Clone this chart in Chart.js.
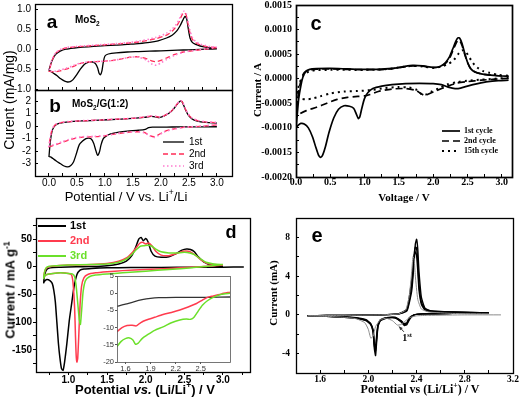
<!DOCTYPE html>
<html>
<head>
<meta charset="utf-8">
<script src="https://cdn.jsdelivr.net/npm/chart.js@4.4.1/dist/chart.umd.min.js"></script>
<style>
  html, body { margin: 0; padding: 0; background: #fff; }
  #fig { position: relative; width: 520px; height: 403px; overflow: hidden; background: #fff; }
  #fig canvas { position: absolute; left: 0; top: 0; }
  .lbl { position: absolute; white-space: nowrap; line-height: 1; color: #000; transform: translate(-50%, -50%); }
  .lbl.left { transform: translate(0, -50%); }
  .lbl.rot { transform: translate(-50%, -50%) rotate(-90deg); }
  .sans { font-family: "Liberation Sans", Arial, sans-serif; }
  .serif { font-family: "Liberation Serif", "Times New Roman", serif; font-weight: bold; }
  .bold { font-weight: bold; }
  .lbl sub, .lbl sup { font-size: 65%; line-height: 0; }
</style>
</head>
<body>
<div id="fig">
  <canvas id="chartA" width="520" height="403"></canvas>
  <canvas id="chartB" width="520" height="403"></canvas>
  <canvas id="chartC" width="520" height="403"></canvas>
  <canvas id="chartD" width="520" height="403"></canvas>
  <canvas id="chartInset" width="520" height="403"></canvas>
  <canvas id="chartE" width="520" height="403"></canvas>

  <!-- panel a / b -->
  <div class="lbl sans bold" style="left:52px;top:21px;font-size:19px">a</div>
  <div class="lbl left sans bold" style="left:75px;top:20px;font-size:10px">MoS<sub>2</sub></div>
  <div class="lbl sans bold" style="left:55px;top:105px;font-size:19px">b</div>
  <div class="lbl left sans bold" style="left:72px;top:104px;font-size:10px">MoS<sub>2</sub>/G(1:2)</div>
  <div class="lbl rot sans" style="left:9px;top:100px;font-size:14px">Curent (mA/mg)</div>
  <div class="lbl sans" style="left:126px;top:196px;font-size:13px">Potential / V vs. Li<sup>+</sup>/Li</div>

  <!-- panel c -->
  <div class="lbl sans bold" style="left:316px;top:23px;font-size:20px">c</div>
  <div class="lbl rot serif" style="left:257px;top:90px;font-size:11px">Current / A</div>
  <div class="lbl serif" style="left:404px;top:197px;font-size:11px">Voltage / V</div>

  <!-- panel d -->
  <div class="lbl sans bold" style="left:231px;top:232px;font-size:18px">d</div>
  <div class="lbl rot sans bold" style="left:10px;top:290px;font-size:13px">Current / mA g<sup>-1</sup></div>
  <div class="lbl sans bold" style="left:145px;top:389px;font-size:13px">Potential <i>vs.</i> (Li/Li<sup>+</sup>) / V</div>

  <!-- panel e -->
  <div class="lbl sans bold" style="left:317px;top:235px;font-size:20px">e</div>
  <div class="lbl rot serif" style="left:273px;top:293px;font-size:11px">Current (mA)</div>
  <div class="lbl serif" style="left:420px;top:389px;font-size:12px">Potential vs (Li/Li<sup>+</sup>) / V</div>
  <div class="lbl serif" style="left:407px;top:338px;font-size:10px">1<sup>st</sup></div>
</div>

<script>
const W = 520, H = 403;

// ---- panel a: MoS2 (mA/mg); each loop = cathodic sweep 3.0 -> 0 V then anodic 0 -> 3.0 V ----
const aBlackV = [3.0, 2.8, 2.6, 2.4, 2.2, 2.0, 1.8, 1.6, 1.4, 1.2, 1.06, 1.0, 0.97, 0.945, 0.92, 0.895, 0.87, 0.83, 0.78, 0.7, 0.63, 0.56, 0.49, 0.43, 0.38, 0.33, 0.28, 0.21, 0.14, 0.08, 0.03, 0.0,
                 0.0, 0.03, 0.07, 0.12, 0.2, 0.3, 0.45, 0.6, 0.8, 1.0, 1.2, 1.4, 1.6, 1.8, 1.95, 2.1, 2.2, 2.28, 2.34, 2.39, 2.43, 2.46, 2.49, 2.52, 2.56, 2.62, 2.7, 2.8, 2.9, 3.0];
const aBlackI = [0.01, 0.0, -0.01, -0.02, -0.03, -0.04, -0.05, -0.06, -0.07, -0.09, -0.12, -0.17, -0.33, -0.55, -0.64, -0.6, -0.47, -0.36, -0.32, -0.33, -0.38, -0.5, -0.65, -0.76, -0.81, -0.82, -0.8, -0.74, -0.66, -0.6, -0.55, -0.52,
                 -0.52, -0.38, -0.24, -0.13, -0.05, 0.0, 0.03, 0.05, 0.07, 0.09, 0.1, 0.12, 0.14, 0.17, 0.21, 0.28, 0.35, 0.45, 0.58, 0.72, 0.82, 0.76, 0.5, 0.28, 0.17, 0.12, 0.08, 0.05, 0.03, 0.02];
const aLaterV = [3.0, 2.8, 2.6, 2.4, 2.25, 2.1, 2.0, 1.92, 1.85, 1.75, 1.6, 1.45, 1.3, 1.15, 1.0, 0.85, 0.7, 0.55, 0.42, 0.3, 0.2, 0.1, 0.04, 0.0,
                 0.0, 0.03, 0.07, 0.12, 0.2, 0.3, 0.5, 0.8, 1.0, 1.3, 1.6, 1.9, 2.1, 2.2, 2.28, 2.33, 2.37, 2.41, 2.45, 2.48, 2.52, 2.56, 2.62, 2.7, 2.8, 2.9, 3.0];
const aRedI = [0.04, 0.0, -0.03, -0.07, -0.13, -0.22, -0.28, -0.31, -0.3, -0.24, -0.19, -0.2, -0.24, -0.28, -0.3, -0.31, -0.32, -0.36, -0.44, -0.5, -0.54, -0.57, -0.56, -0.55,
               -0.55, -0.4, -0.23, -0.1, -0.02, 0.03, 0.06, 0.09, 0.11, 0.14, 0.18, 0.26, 0.35, 0.45, 0.58, 0.7, 0.84, 0.92, 0.86, 0.65, 0.4, 0.25, 0.16, 0.11, 0.07, 0.05, 0.04];
const aPinkI = [0.05, 0.01, -0.03, -0.08, -0.15, -0.26, -0.34, -0.4, -0.38, -0.28, -0.2, -0.2, -0.24, -0.28, -0.3, -0.31, -0.32, -0.35, -0.42, -0.48, -0.52, -0.55, -0.55, -0.54,
                -0.54, -0.37, -0.2, -0.09, -0.01, 0.04, 0.07, 0.1, 0.12, 0.15, 0.2, 0.29, 0.4, 0.5, 0.63, 0.76, 0.88, 0.95, 0.9, 0.72, 0.46, 0.3, 0.19, 0.13, 0.09, 0.06, 0.05];

// ---- panel b: MoS2/G(1:2) (mA/mg) ----
const bBlackV = [3.0, 2.6, 2.2, 1.85, 1.78, 1.72, 1.6, 1.4, 1.25, 1.1, 1.02, 0.97, 0.93, 0.9, 0.87, 0.84, 0.8, 0.76, 0.71, 0.66, 0.6, 0.54, 0.49, 0.44, 0.39, 0.33, 0.27, 0.2, 0.13, 0.07, 0.03, 0.0,
                 0.0, 0.02, 0.05, 0.09, 0.14, 0.2, 0.35, 0.6, 0.9, 1.2, 1.5, 1.7, 1.82, 1.9, 1.97, 2.05, 2.15, 2.22, 2.28, 2.33, 2.36, 2.39, 2.43, 2.48, 2.55, 2.65, 2.8, 3.0];
const bBlackI = [-0.05, -0.06, -0.07, -0.08, -0.12, -0.26, -0.33, -0.4, -0.48, -0.62, -0.8, -1.0, -1.5, -2.1, -2.35, -2.0, -1.4, -1.05, -0.96, -1.0, -1.2, -1.5, -2.2, -2.85, -3.15, -3.27, -3.2, -3.0, -2.8, -2.6, -2.47, -2.43,
                 -2.43, -1.4, -0.5, -0.05, 0.15, 0.25, 0.35, 0.42, 0.48, 0.55, 0.62, 0.7, 0.78, 0.75, 0.68, 0.8, 1.05, 1.35, 1.7, 1.95, 2.02, 1.85, 1.4, 0.95, 0.6, 0.4, 0.3, 0.25];
const bLaterV = [3.0, 2.7, 2.4, 2.2, 2.05, 1.95, 1.88, 1.8, 1.7, 1.55, 1.4, 1.2, 1.0, 0.8, 0.6, 0.45, 0.35, 0.25, 0.15, 0.08, 0.03, 0.0,
                 0.0, 0.02, 0.05, 0.09, 0.14, 0.2, 0.35, 0.6, 0.9, 1.2, 1.5, 1.7, 1.82, 1.9, 1.97, 2.05, 2.15, 2.22, 2.28, 2.33, 2.36, 2.39, 2.43, 2.48, 2.55, 2.65, 2.8, 3.0];
const bRedI = [0.1, -0.02, -0.1, -0.25, -0.45, -0.7, -0.85, -0.75, -0.5, -0.45, -0.5, -0.62, -0.78, -0.85, -0.88, -1.0, -1.12, -1.28, -1.45, -1.55, -1.62, -1.65,
               -1.65, -1.0, -0.35, 0.0, 0.18, 0.27, 0.36, 0.43, 0.49, 0.56, 0.63, 0.72, 0.8, 0.78, 0.72, 0.82, 1.07, 1.37, 1.72, 1.97, 2.03, 1.88, 1.45, 1.0, 0.65, 0.45, 0.33, 0.28];
const bPinkI = [0.12, 0.0, -0.1, -0.27, -0.48, -0.75, -0.9, -0.78, -0.52, -0.45, -0.5, -0.6, -0.75, -0.82, -0.85, -0.95, -1.08, -1.22, -1.4, -1.5, -1.58, -1.6,
                -1.6, -0.95, -0.3, 0.02, 0.2, 0.28, 0.37, 0.44, 0.5, 0.57, 0.64, 0.73, 0.81, 0.79, 0.73, 0.83, 1.08, 1.38, 1.73, 1.98, 2.04, 1.9, 1.48, 1.03, 0.68, 0.47, 0.35, 0.3];

// ---- panel c: current in units of 1e-4 A ----
const cFirstV = [3.1, 2.95, 2.8, 2.65, 2.5, 2.4, 2.32, 2.22, 2.12, 2.0, 1.8, 1.6, 1.4, 1.25, 1.12, 1.05, 1.0, 0.96, 0.93, 0.91, 0.88, 0.84, 0.78, 0.7, 0.62, 0.55, 0.48, 0.43, 0.39, 0.36, 0.33, 0.29, 0.24, 0.18, 0.12, 0.07, 0.03, 0.0,
                 0.0, 0.02, 0.04, 0.07, 0.1, 0.14, 0.2, 0.3, 0.5, 0.75, 1.0, 1.2, 1.4, 1.55, 1.7, 1.85, 2.0, 2.1, 2.18, 2.24, 2.29, 2.33, 2.36, 2.39, 2.42, 2.46, 2.5, 2.55, 2.62, 2.7, 2.8, 2.95, 3.1];
const cFirstI = [-0.3, -0.4, -0.6, -1.0, -1.5, -1.9, -2.0, -1.7, -1.2, -1.0, -0.95, -1.0, -1.2, -1.5, -2.0, -2.8, -4.0, -6.0, -7.8, -8.1, -7.2, -6.0, -5.6, -5.5, -6.2, -8.0, -11.0, -13.8, -15.5, -16.0, -15.6, -14.0, -11.8, -10.0, -9.2, -9.1, -9.5, -10.0,
                 -10.0, -7.0, -4.0, -1.5, 0.3, 1.4, 1.9, 2.05, 2.1, 2.0, 1.9, 1.9, 2.1, 2.4, 2.7, 2.6, 2.3, 2.5, 3.3, 4.5, 6.2, 7.6, 8.3, 8.2, 7.2, 5.2, 3.4, 2.0, 1.3, 1.0, 0.8, 0.6, 0.5];
const cSecondV = [3.1, 2.9, 2.7, 2.5, 2.35, 2.2, 2.05, 1.95, 1.88, 1.82, 1.75, 1.6, 1.4, 1.2, 1.08, 1.0, 0.9, 0.75, 0.6, 0.45, 0.3, 0.15, 0.05, 0.0,
                  0.0, 0.02, 0.04, 0.07, 0.1, 0.14, 0.2, 0.3, 0.5, 0.75, 1.0, 1.2, 1.4, 1.55, 1.7, 1.85, 2.0, 2.1, 2.18, 2.24, 2.29, 2.33, 2.36, 2.39, 2.42, 2.46, 2.5, 2.55, 2.62, 2.7, 2.8, 2.95, 3.1];
const cSecondI = [0.1, -0.1, -0.3, -0.6, -0.9, -1.6, -2.4, -3.0, -3.4, -3.0, -2.4, -2.0, -2.1, -2.6, -3.2, -3.5, -3.6, -3.8, -4.2, -5.0, -5.8, -6.5, -7.2, -7.8,
                  -7.8, -5.0, -2.5, -0.5, 0.8, 1.5, 1.8, 1.95, 2.0, 1.9, 1.85, 1.85, 2.05, 2.35, 2.6, 2.55, 2.25, 2.45, 3.1, 4.2, 5.8, 7.1, 7.8, 7.7, 6.8, 5.0, 3.3, 2.0, 1.3, 1.0, 0.8, 0.6, 0.5];
const cFifteenthV = [3.1, 2.9, 2.7, 2.5, 2.35, 2.2, 2.08, 1.98, 1.9, 1.85, 1.8, 1.75, 1.65, 1.5, 1.3, 1.1, 0.9, 0.7, 0.5, 0.35, 0.25, 0.15, 0.08, 0.03, 0.0,
                     0.0, 0.03, 0.06, 0.1, 0.15, 0.22, 0.3, 0.5, 0.75, 1.0, 1.2, 1.4, 1.55, 1.7, 1.85, 2.0, 2.12, 2.22, 2.3, 2.36, 2.4, 2.44, 2.48, 2.53, 2.58, 2.64, 2.72, 2.82, 2.95, 3.1];
const cFifteenthI = [0.2, 0.0, -0.2, -0.4, -0.7, -1.2, -2.0, -2.6, -3.2, -3.3, -2.8, -2.2, -1.8, -1.7, -1.9, -2.3, -2.5, -2.6, -3.0, -3.6, -4.0, -4.2, -4.1, -3.8, -3.5,
                     -3.5, -2.0, -0.6, 0.5, 1.2, 1.6, 1.75, 1.8, 1.8, 1.8, 1.85, 2.05, 2.4, 2.6, 2.5, 2.2, 2.5, 3.0, 3.8, 4.9, 5.6, 5.8, 5.4, 4.3, 3.2, 2.3, 1.6, 1.2, 0.8, 0.6];

// ---- panel d: mA/g ----
const dFirstV = [3.27, 3.0, 2.6, 2.2, 1.8, 1.5, 1.3, 1.2, 1.15, 1.11, 1.07, 1.04, 1.01, 0.98, 0.95, 0.93, 0.91, 0.89, 0.87, 0.85, 0.83, 0.81, 0.79, 0.76, 0.72, 0.69, 0.68,
                 0.69, 0.71, 0.74, 0.8, 0.9, 1.1, 1.3, 1.5, 1.65, 1.75, 1.82, 1.87, 1.91, 1.94, 1.97, 2.0, 2.03, 2.07, 2.12, 2.2, 2.3, 2.4, 2.47, 2.53, 2.58, 2.63, 2.68, 2.75, 2.85, 3.0];
const dFirstI = [-0.5, -0.8, -1, -1.2, -1.5, -2, -3, -4, -6, -14, -38, -68, -98, -138, -172, -187, -184, -165, -138, -100, -63, -42, -30, -25, -23, -26, -29,
                 -16, -7, -3, -1.5, -1, 0, 0.5, 2, 5, 10, 20, 35, 50, 53, 47, 51, 45, 28, 19, 17, 18, 24, 30, 32, 31, 27, 18, 9, 3, 1];
const dSecondV = [3.0, 2.8, 2.6, 2.3, 2.0, 1.7, 1.5, 1.35, 1.25, 1.2, 1.17, 1.15, 1.135, 1.12, 1.11, 1.1, 1.09, 1.08, 1.06, 1.04, 1.0, 0.9, 0.8, 0.72, 0.69, 0.68,
                  0.69, 0.71, 0.75, 0.85, 1.0, 1.3, 1.5, 1.65, 1.75, 1.82, 1.88, 1.92, 1.96, 2.0, 2.04, 2.08, 2.13, 2.2, 2.3, 2.4, 2.48, 2.55, 2.6, 2.66, 2.72, 2.8, 2.9, 3.0];
const dSecondI = [3, 1, -1, -3, -5, -7, -9, -11, -14, -20, -35, -70, -120, -165, -172, -160, -120, -75, -30, -15, -12, -11, -12, -14, -17, -20,
                  -10, -3, 0, 2, 3, 4, 6, 10, 16, 25, 35, 42, 44, 41, 43, 38, 28, 21, 20, 24, 28, 28, 25, 19, 12, 6, 4, 3];
const dThirdV = [3.0, 2.8, 2.6, 2.3, 2.0, 1.7, 1.5, 1.35, 1.27, 1.22, 1.19, 1.17, 1.155, 1.14, 1.12, 1.1, 1.08, 1.05, 1.0, 0.9, 0.8, 0.72, 0.69, 0.68,
                 0.69, 0.71, 0.75, 0.85, 1.0, 1.3, 1.5, 1.65, 1.75, 1.82, 1.88, 1.93, 1.98, 2.03, 2.08, 2.13, 2.2, 2.3, 2.4, 2.5, 2.57, 2.63, 2.7, 2.78, 2.88, 3.0];
const dThirdI = [4, 1, -2, -5, -8, -11, -13, -15, -18, -25, -45, -80, -104, -95, -65, -35, -18, -13, -12, -11, -12, -14, -17, -21,
                 -10, -2, 1, 2, 3, 4, 5, 8, 14, 22, 31, 37, 38, 39, 37, 32, 27, 25, 25, 26, 25, 22, 15, 8, 5, 4];

// inset of d (zoom of the cathodic branches)
const insFirstV = [1.5, 1.6, 1.7, 1.8, 1.9, 2.0, 2.2, 2.4, 2.6, 2.85];
const insFirstI = [-3.8, -3.2, -2.5, -1.9, -1.5, -1.3, -1.2, -1.2, -1.2, -1.1];
const insSecondV = [1.5, 1.56, 1.62, 1.68, 1.73, 1.78, 1.85, 1.95, 2.05, 2.15, 2.25, 2.35, 2.45, 2.52, 2.58, 2.65, 2.75, 2.85];
const insSecondI = [-11.2, -10.0, -9.4, -9.3, -9.5, -8.6, -7.8, -7.0, -6.2, -5.6, -4.9, -4.0, -3.0, -2.0, -1.2, -0.8, -0.2, 0.3];
const insThirdV = [1.5, 1.55, 1.6, 1.65, 1.69, 1.72, 1.75, 1.8, 1.87, 1.95, 2.05, 2.15, 2.25, 2.33, 2.38, 2.42, 2.47, 2.52, 2.58, 2.65, 2.75, 2.85];
const insThirdI = [-15.5, -14.0, -13.2, -13.0, -13.6, -14.8, -14.6, -13.2, -12.0, -10.8, -9.8, -8.6, -7.8, -7.5, -7.6, -7.0, -5.2, -3.5, -2.2, -1.2, -0.3, 0.0];

// ---- panel e: mA ----
const eFirstV = [3.1, 2.8, 2.5, 2.4, 2.34, 2.3, 2.27, 2.24, 2.2, 2.15, 2.1, 2.06, 2.04, 2.02, 2.0, 1.97, 1.9, 1.8, 1.65, 1.5,
                 1.8, 2.1, 2.25, 2.31, 2.34, 2.36, 2.37, 2.38, 2.39, 2.41, 2.44, 2.5, 2.7, 3.0];
const eFirstI = [0.0, 0.0, -0.05, -0.1, -0.3, -0.7, -1.0, -1.05, -0.6, -0.35, -0.5, -1.2, -2.2, -2.4, -1.5, -0.8, -0.4, -0.25, -0.15, -0.1,
                 -0.05, 0.0, 0.1, 0.5, 2.0, 4.5, 6.0, 5.8, 4.0, 1.6, 0.6, 0.3, 0.15, 0.1];
const eLaterV = [3.0, 2.7, 2.45, 2.38, 2.34, 2.32, 2.3, 2.27, 2.22, 2.15, 2.1, 2.08, 2.07, 2.06, 2.05, 2.04, 2.02, 1.98, 1.9, 1.8, 1.65, 1.5,
                 1.8, 2.1, 2.25, 2.32, 2.36, 2.38, 2.39, 2.4, 2.41, 2.42, 2.44, 2.47, 2.52, 2.7, 3.0];
const eCycle2I = [0.2, 0.15, 0.1, 0.0, -0.5, -1.0, -1.1, -0.7, -0.3, -0.35, -0.6, -1.2, -2.6, -4.2, -3.5, -1.8, -1.0, -0.6, -0.35, -0.25, -0.15, -0.1,
                  -0.05, 0.0, 0.1, 0.4, 2.5, 5.5, 7.3, 7.8, 6.8, 4.5, 1.8, 0.7, 0.4, 0.3, 0.2];
const eCycle3I = [0.2, 0.15, 0.1, 0.0, -0.4, -0.9, -1.0, -0.65, -0.3, -0.3, -0.55, -1.1, -2.3, -3.7, -3.2, -1.7, -0.95, -0.55, -0.35, -0.25, -0.15, -0.1,
                  -0.05, 0.0, 0.1, 0.5, 3.0, 6.2, 7.0, 6.9, 5.5, 3.2, 1.3, 0.6, 0.4, 0.3, 0.2];
const eCycle4I = [0.2, 0.15, 0.1, 0.0, -0.3, -0.8, -0.9, -0.6, -0.25, -0.3, -0.5, -1.0, -2.0, -3.3, -3.0, -1.6, -0.9, -0.5, -0.3, -0.2, -0.15, -0.1,
                  -0.05, 0.0, 0.1, 0.6, 3.6, 6.0, 6.5, 6.2, 4.6, 2.6, 1.1, 0.5, 0.35, 0.25, 0.2];
const eArrow = [[2.295, -1.75], [2.255, -1.2]];   // "1st" pointer, data units

// ---- ticks ----
const abXMajor = [0, 0.5, 1, 1.5, 2, 2.5, 3];
const abXLabels = ['0.0', '0.5', '1.0', '1.5', '2.0', '2.5', '3.0'];
const abXMinor = [0.25, 0.75, 1.25, 1.75, 2.25, 2.75];
const aYMajor = [-1, -0.5, 0, 0.5, 1];
const aYLabels = ['-1.0', '-0.5', '0.0', '0.5', '1.0'];
const bYMajor = [-3, -2, -1, 0, 1, 2];
const bYLabels = ['-3', '-2', '-1', '0', '1', '2'];
const cYMajor = [-20, -15, -10, -5, 0, 5, 10, 15];
const cYLabels = ['-0.0020', '-0.0015', '-0.0010', '-0.0005', '0.0000', '0.0005', '0.0010', '0.0015'];
const cYMinor = [-17.5, -12.5, -7.5, -2.5, 2.5, 7.5, 12.5];
const dXMajor = [1, 1.5, 2, 2.5, 3];
const dXLabels = ['1.0', '1.5', '2.0', '2.5', '3.0'];
const dXMinor = [0.75, 1.25, 1.75, 2.25, 2.75, 3.25];
const dYMajor = [-150, -100, -50, 0, 50];
const dYLabels = ['-150', '-100', '-50', '0', '50'];
const dYMinor = [-175, -125, -75, -25, 25, 75];
const insXMajor = [1.6, 1.9, 2.2, 2.5];
const insXLabels = ['1.6', '1.9', '2.2', '2.5'];
const insYMajor = [-20, -15, -10, -5, 0, 5];
const insYLabels = ['-20', '-15', '-10', '-5', '0', '5'];
const eXMajor = [1.6, 2.0, 2.4, 2.8, 3.2];
const eXLabels = ['1.6', '2.0', '2.4', '2.8', '3.2'];
const eXMinor = [1.8, 2.2, 2.6, 3.0];
const eYMajor = [-4, 0, 4, 8];
const eYLabels = ['-4', '0', '4', '8'];
const eYMinor = [-2, 2, 6];

// ---- styles ----
const SANS = "'Liberation Sans', Arial, sans-serif";
const SERIF = "'Liberation Serif', 'Times New Roman', serif";
const abFont = { family: SANS, size: 10 };
const cFont = { family: SERIF, size: 10, weight: 'bold' };
const dFont = { family: SANS, size: 10, weight: 'bold' };
const insFont = { family: SANS, size: 7.5 };
const eFont = { family: SERIF, size: 9.5, weight: 'bold' };

const abSolid = { color: '#000000', width: 1.3 };
const abDash = { color: '#ff2d55', width: 1.3, dash: [5, 3] };
const abDot = { color: '#ff7ccf', width: 1.6, dash: [1.5, 2.5] };
const cSolid = { color: '#000000', width: 1.7 };
const cDash = { color: '#000000', width: 1.7, dash: [7, 4] };
const cDot = { color: '#000000', width: 2, dash: [2, 4] };
const dBlack = { color: '#000000', width: 1.5 };
const dRed = { color: '#ff3b4e', width: 1.5 };
const dGreen = { color: '#6be02a', width: 1.5 };
const eGray = { color: '#8a8a8a', width: 1 };
const eBlack = { color: '#000000', width: 1.4 };

function curve(xs, ys, st, tension) {
  const data = [];
  const n = Math.min(xs.length, ys.length);
  for (let i = 0; i < n; i++) data.push({ x: xs[i], y: ys[i] });
  return {
    data, showLine: true, pointRadius: 0, fill: false, tension: tension == null ? 0.25 : tension,
    borderColor: st.color, borderWidth: st.width, borderDash: st.dash || [], borderCapStyle: 'butt'
  };
}

// fixed size of the axis boxes (tick labels get clipped to them)
function axis(o, dir, size) {
  const all = o.major.concat(o.minor || []);
  return {
    type: 'linear', min: o.min, max: o.max,
    afterBuildTicks: s => { s.ticks = all.map(v => ({ value: v })); },
    afterFit: s => {
      if (dir === 'x') s.height = size; else s.width = size;
      s.paddingLeft = s.paddingRight = s.paddingTop = s.paddingBottom = 0;
    },
    grid: { drawOnChartArea: false, drawTicks: true, tickLength: o.tl, tickColor: o.tickColor || '#000', tickWidth: 1 },
    border: { display: false },
    ticks: {
      display: o.show !== false, autoSkip: false, maxRotation: 0, minRotation: 0,
      padding: o.pad, color: o.color || '#000', font: o.font,
      callback: v => { const i = o.major.indexOf(v); return i < 0 ? '' : o.labels[i]; }
    }
  };
}

// frame, in-plot key and arrow drawn on the same canvas
function deco(o) {
  return {
    id: 'deco',
    beforeDatasetsDraw(chart) {
      if (!o.fill) return;
      const a = chart.chartArea, ctx = chart.ctx;
      ctx.save(); ctx.fillStyle = o.fill; ctx.fillRect(a.left, a.top, a.right - a.left, a.bottom - a.top); ctx.restore();
    },
    afterDraw(chart) {
      const a = chart.chartArea, ctx = chart.ctx;
      ctx.save();
      ctx.strokeStyle = o.frameColor || '#000';
      ctx.lineWidth = o.lw;
      ctx.strokeRect(Math.round(a.left) + 0.5, Math.round(a.top) + 0.5, Math.round(a.right - a.left), Math.round(a.bottom - a.top));
      if (o.key) {
        const k = o.key;
        ctx.font = k.font; ctx.textBaseline = 'middle'; ctx.textAlign = 'left';
        k.items.forEach((it, i) => {
          const y = a.top + k.y + i * k.dy;
          ctx.beginPath();
          ctx.setLineDash(it.st.dash || []);
          ctx.lineWidth = k.lw || it.st.width;
          ctx.strokeStyle = it.st.color;
          ctx.moveTo(a.left + k.x, y); ctx.lineTo(a.left + k.x + k.len, y); ctx.stroke();
          ctx.setLineDash([]);
          ctx.fillStyle = k.colored ? it.st.color : '#000';
          ctx.fillText(it.label, a.left + k.x + k.len + k.gap, y);
        });
      }
      if (o.arrow) {
        const xs = chart.scales.x, ys = chart.scales.y;
        const x0 = xs.getPixelForValue(o.arrow[0][0]), y0 = ys.getPixelForValue(o.arrow[0][1]);
        const x1 = xs.getPixelForValue(o.arrow[1][0]), y1 = ys.getPixelForValue(o.arrow[1][1]);
        const ang = Math.atan2(y1 - y0, x1 - x0);
        ctx.setLineDash([]); ctx.strokeStyle = '#333'; ctx.fillStyle = '#333'; ctx.lineWidth = 1;
        ctx.beginPath(); ctx.moveTo(x0, y0); ctx.lineTo(x1, y1); ctx.stroke();
        ctx.beginPath();
        ctx.moveTo(x1, y1);
        ctx.lineTo(x1 - 4 * Math.cos(ang - 0.45), y1 - 4 * Math.sin(ang - 0.45));
        ctx.lineTo(x1 - 4 * Math.cos(ang + 0.45), y1 - 4 * Math.sin(ang + 0.45));
        ctx.closePath(); ctx.fill();
      }
      ctx.restore();
    }
  };
}

function panel(id, o) {
  const [l, t, r, b] = o.area;
  const yw = o.yw, xh = 20;
  return new Chart(document.getElementById(id), {
    type: 'scatter',
    data: { datasets: o.series },
    options: {
      responsive: false, animation: false, events: [],
      layout: { padding: { left: l - yw, top: t, right: W - r, bottom: H - b - xh } },
      plugins: { legend: { display: false }, tooltip: { enabled: false } },
      scales: { x: axis(o.x, 'x', xh), y: axis(o.y, 'y', yw) }
    },
    plugins: [deco(o)]
  });
}

panel('chartA', {
  area: [35, 4, 232, 90], yw: 34, lw: 1.3,
  x: { min: -0.25, max: 3.27, major: abXMajor, minor: abXMinor, labels: abXLabels, show: false, tl: -3, pad: 0, font: abFont },
  y: { min: -1.02, max: 1.13, major: aYMajor, labels: aYLabels, tl: -3, pad: 7, font: abFont },
  series: [curve(aLaterV, aPinkI, abDot), curve(aLaterV, aRedI, abDash), curve(aBlackV, aBlackI, abSolid)]
});

panel('chartB', {
  area: [35, 90, 232, 176], yw: 34, lw: 1.3,
  x: { min: -0.25, max: 3.27, major: abXMajor, minor: abXMinor, labels: abXLabels, tl: -3, pad: 4, font: abFont },
  y: { min: -4.0, max: 2.9, major: bYMajor, labels: bYLabels, tl: -3, pad: 7, font: abFont },
  series: [curve(bLaterV, bPinkI, abDot), curve(bLaterV, bRedI, abDash), curve(bBlackV, bBlackI, abSolid)],
  key: { x: 128, y: 52, dy: 12, len: 21, gap: 5, font: '10px ' + SANS,
         items: [{ label: '1st', st: abSolid }, { label: '2nd', st: abDash }, { label: '3rd', st: abDot }] }
});

panel('chartC', {
  area: [296, 5, 512, 177], yw: 45, lw: 1.7,
  x: { min: 0, max: 3.15, major: abXMajor, minor: abXMinor, labels: abXLabels, tl: -3, pad: 2, font: cFont },
  y: { min: -20, max: 15, major: cYMajor, minor: cYMinor, labels: cYLabels, tl: -3, pad: 7, font: cFont },
  series: [curve(cFifteenthV, cFifteenthI, cDot), curve(cSecondV, cSecondI, cDash), curve(cFirstV, cFirstI, cSolid)],
  key: { x: 146, y: 126, dy: 10, len: 18, gap: 4, font: 'bold 8px ' + SERIF,
         items: [{ label: '1st cycle', st: cSolid }, { label: '2nd cycle', st: cDash }, { label: '15th cycle', st: cDot }] }
});

panel('chartD', {
  area: [36, 218, 250, 372], yw: 35, lw: 1.3,
  x: { min: 0.58, max: 3.35, major: dXMajor, minor: dXMinor, labels: dXLabels, tl: 3, pad: -1, font: dFont },
  y: { min: -190, max: 88, major: dYMajor, minor: dYMinor, labels: dYLabels, tl: 3, pad: 1, font: dFont },
  series: [curve(dThirdV, dThirdI, dGreen, 0.2), curve(dSecondV, dSecondI, dRed, 0.2), curve(dFirstV, dFirstI, dBlack, 0.2)],
  key: { x: 2, y: 8, dy: 15, len: 28, gap: 4, lw: 2, colored: true, font: 'bold 11px ' + SANS,
         items: [{ label: '1st', st: dBlack }, { label: '2nd', st: dRed }, { label: '3rd', st: dGreen }] }
});

panel('chartInset', {
  area: [117, 276, 230, 362], yw: 22, lw: 0.8, frameColor: '#555', fill: '#ffffff',
  x: { min: 1.5, max: 2.85, major: insXMajor, labels: insXLabels, tl: 2, pad: 0, font: insFont, color: '#333', tickColor: '#555' },
  y: { min: -20, max: 5, major: insYMajor, labels: insYLabels, tl: 2, pad: 1, font: insFont, color: '#333', tickColor: '#555' },
  series: [curve(insThirdV, insThirdI, dGreen, 0.2), curve(insSecondV, insSecondI, dRed, 0.2), curve(insFirstV, insFirstI, { color: '#333', width: 1.3 }, 0.2)]
});

panel('chartE', {
  area: [296, 218, 513, 373], yw: 30, lw: 1.3, arrow: eArrow,
  x: { min: 1.4, max: 3.2, major: eXMajor, minor: eXMinor, labels: eXLabels, tl: -3, pad: 4, font: eFont },
  y: { min: -6, max: 10, major: eYMajor, minor: eYMinor, labels: eYLabels, tl: -3, pad: 9, font: eFont },
  series: [curve(eFirstV, eFirstI, eGray, 0.15), curve(eLaterV, eCycle4I, eBlack, 0.15),
           curve(eLaterV, eCycle3I, eBlack, 0.15), curve(eLaterV, eCycle2I, eBlack, 0.15)]
});
</script>
</body>
</html>
